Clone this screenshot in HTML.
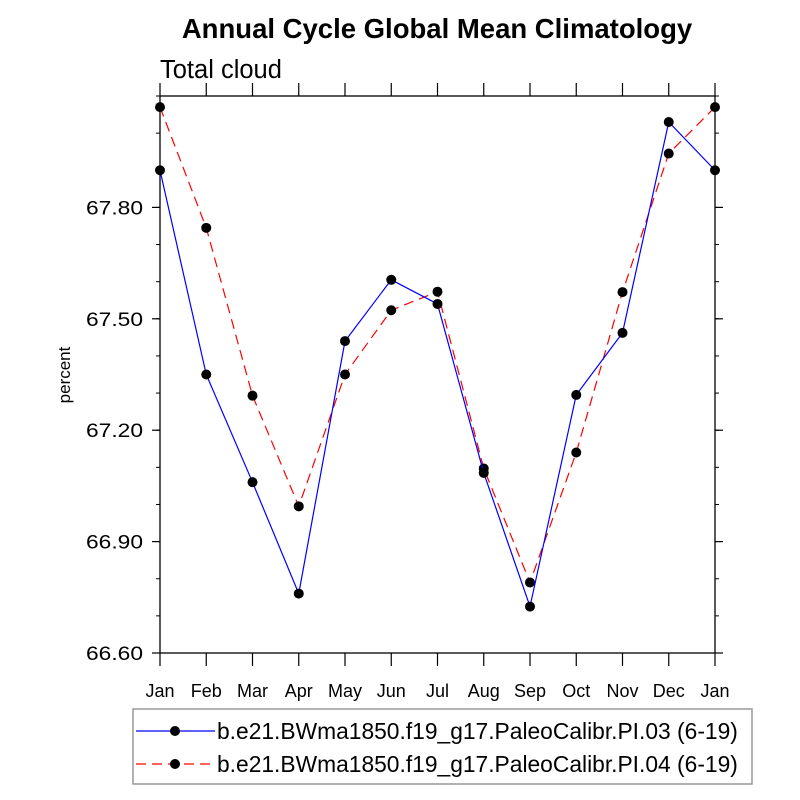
<!DOCTYPE html>
<html><head><meta charset="utf-8"><style>
body{margin:0;background:#fff;}
svg{display:block;font-family:"Liberation Sans",Arial,sans-serif;}
</style></head><body>
<svg id="chart" width="800" height="800" viewBox="0 0 800 800">
<text x="437" y="38" text-anchor="middle" font-size="27.5" font-weight="bold">Annual Cycle Global Mean Climatology</text>
<text x="160" y="78" font-size="25.5">Total cloud</text>
<text transform="translate(70,375) rotate(-90)" text-anchor="middle" font-size="17">percent</text>
<g id="axes"></g>
<g id="series"></g>
<rect x="133" y="709" width="619" height="75" fill="none" stroke="#999" stroke-width="1.5"/>
<g>
<line x1="136" y1="731" x2="215" y2="731" stroke="#0000ff" stroke-width="1.2"/>
<circle cx="175" cy="731" r="5" fill="#000"/>
<text x="217" y="739" font-size="22.8">b.e21.BWma1850.f19_g17.PaleoCalibr.PI.03 (6-19)</text>
</g>
<g>
<line x1="136" y1="764" x2="215" y2="764" stroke="#ff0000" stroke-width="1.2" stroke-dasharray="10,6"/>
<circle cx="175" cy="764" r="5" fill="#000"/>
<text x="217" y="772" font-size="22.8">b.e21.BWma1850.f19_g17.PaleoCalibr.PI.04 (6-19)</text>
</g>
</svg>
<script>
const months=["Jan","Feb","Mar","Apr","May","Jun","Jul","Aug","Sep","Oct","Nov","Dec","Jan"];
const seriesPI03=[67.90,67.35,67.06,66.76,67.44,67.605,67.54,67.085,66.725,67.295,67.462,68.03,67.90];
const seriesPI04=[68.07,67.745,67.293,66.995,67.35,67.523,67.573,67.097,66.79,67.14,67.572,67.945,68.07];
const yTicks=[66.6,66.9,67.2,67.5,67.8];
const yTickLabels=["66.60","66.90","67.20","67.50","67.80"];
const yMin=66.6,yMax=68.1;
const L=160,R=715,T=96,B=653;
const NS="http://www.w3.org/2000/svg";
function xs(i){return L+(R-L)*i/(months.length-1);}
function ys(v){return B-(B-T)*(v-yMin)/(yMax-yMin);}
function mk(tag,attrs,parent){const e=document.createElementNS(NS,tag);for(const k in attrs)e.setAttribute(k,attrs[k]);parent.appendChild(e);return e;}
const ax=document.getElementById('axes');
const frame=mk('rect',{x:L,y:T,width:R-L,height:B-T,fill:'none',stroke:'#000','stroke-width':1.3},ax);


months.forEach((m,i)=>{
  const x=xs(i);
  mk('line',{x1:x,y1:B,x2:x,y2:B+13,stroke:'#000','stroke-width':1.2},ax);
  mk('line',{x1:x,y1:T,x2:x,y2:T-13,stroke:'#000','stroke-width':1.2},ax);
  const t=mk('text',{x:x,y:697,'text-anchor':'middle','font-size':18},ax);
  t.textContent=m;
  
  
});
for(let v=yMin;v<=yMax+1e-6;v+=0.1){
  const y=ys(v);
  mk('line',{x1:L,y1:y,x2:L-4,y2:y,stroke:'#000','stroke-width':1},ax);
  mk('line',{x1:R,y1:y,x2:R+4,y2:y,stroke:'#000','stroke-width':1},ax);
}
yTicks.forEach((v,i)=>{
  const y=ys(v);
  mk('line',{x1:L,y1:y,x2:L-8,y2:y,stroke:'#000','stroke-width':1.2},ax);
  mk('line',{x1:R,y1:y,x2:R+8,y2:y,stroke:'#000','stroke-width':1.2},ax);
  const t=mk('text',{x:86,y:y+7,'font-size':19.5,textLength:57,lengthAdjust:'spacingAndGlyphs'},ax);
  t.textContent=yTickLabels[i];
  
  
});
const sg=document.getElementById('series');
function draw(vals,color,dash,name){
  const g=mk('g',{},sg);
  
  
  const pts=vals.map((v,i)=>xs(i)+','+ys(v)).join(' ');
  const a={points:pts,fill:'none',stroke:color,'stroke-width':1.2};
  if(dash)a['stroke-dasharray']=dash;
  mk('polyline',a,g);
  vals.forEach((v,i)=>{
    const c=mk('circle',{cx:xs(i),cy:ys(v),r:5,fill:'#000'},g);
    
    
  });
}
draw(seriesPI04,'#ff0000','10,6','series-pi04');
draw(seriesPI03,'#0000ff',null,'series-pi03');
</script>
</body></html>
